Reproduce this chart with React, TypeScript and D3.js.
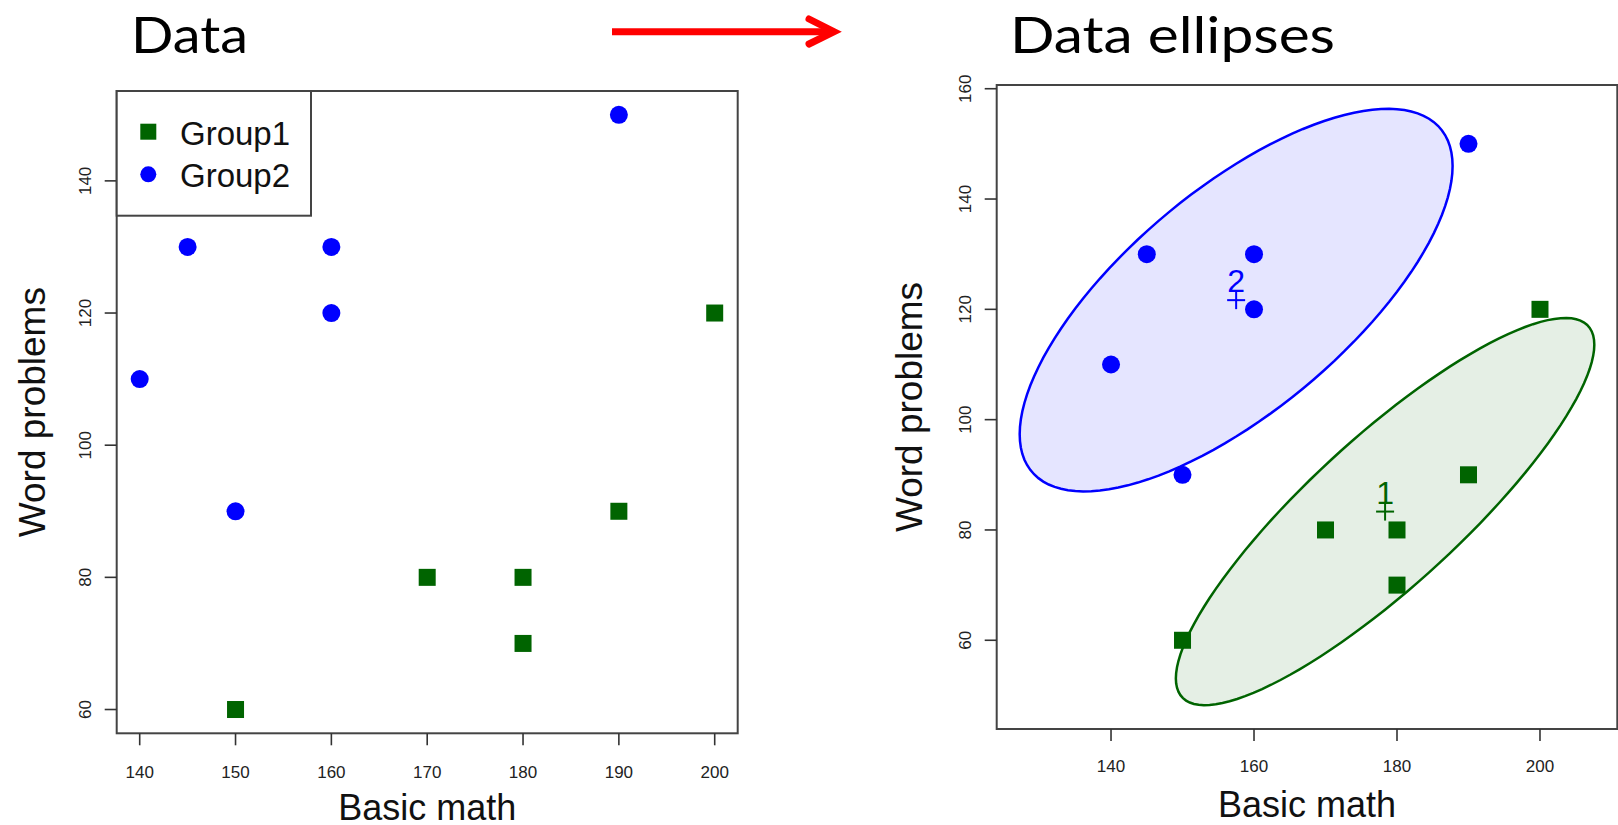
import React from "react";
import * as d3 from "d3";

// ---- Data ----
const group1X = [150, 170, 180, 180, 190, 200];
const group1Y = [60, 80, 80, 70, 90, 120];
const group2X = [140, 145, 150, 160, 160, 190];
const group2Y = [110, 130, 90, 130, 120, 150];
const groupNames = ["Group1", "Group2"];
const groupLabels = ["1", "2"];
const leftXTicks = [140, 150, 160, 170, 180, 190, 200];
const leftYTicks = [60, 80, 100, 120, 140];
const rightXTicks = [140, 160, 180, 200];
const rightYTicks = [60, 80, 100, 120, 140, 160];
const ellipseLevel = 0.68;

const GREEN = "#006400";
const BLUE = "#0000ff";
const AXIS = "#333333";
const FONT = "'Liberation Sans', Arial, sans-serif";
const TITLE_FONT = "Lato, 'Open Sans', sans-serif";

function stats(xs: number[], ys: number[]) {
  const n = xs.length;
  const mx = d3.mean(xs)!;
  const my = d3.mean(ys)!;
  let sxx = 0, syy = 0, sxy = 0;
  for (let i = 0; i < n; i++) {
    sxx += (xs[i] - mx) ** 2;
    syy += (ys[i] - my) ** 2;
    sxy += (xs[i] - mx) * (ys[i] - my);
  }
  sxx /= n - 1; syy /= n - 1; sxy /= n - 1;
  // radius sqrt(2 * qf(level, 2, n-1)), closed form for df1 = 2
  const d = n - 1;
  const q = (d / 2) * (Math.pow(1 - ellipseLevel, -2 / d) - 1);
  const c = Math.sqrt(2 * q);
  const l11 = Math.sqrt(sxx);
  const l21 = sxy / l11;
  const l22 = Math.sqrt(syy - l21 * l21);
  const pts: [number, number][] = [];
  const N = 120;
  for (let k = 0; k < N; k++) {
    const t = (2 * Math.PI * k) / N;
    pts.push([mx + c * l11 * Math.cos(t), my + c * (l21 * Math.cos(t) + l22 * Math.sin(t))]);
  }
  return { mx, my, pts, xr: [mx - c * l11, mx + c * l11], yr: [my - c * Math.sqrt(syy), my + c * Math.sqrt(syy)] };
}

function padDomain(lo: number, hi: number): [number, number] {
  const p = (hi - lo) * 0.04;
  return [lo - p, hi + p];
}

const g1 = stats(group1X, group1Y);
const g2 = stats(group2X, group2Y);

const allX = [...group1X, ...group2X];
const allY = [...group1Y, ...group2Y];

// Left panel scales
const L = { left: 116.7, right: 737.7, top: 91, bottom: 733.3 };
const lx = d3.scaleLinear().domain(padDomain(d3.min(allX)!, d3.max(allX)!)).range([L.left, L.right]);
const ly = d3.scaleLinear().domain(padDomain(d3.min(allY)!, d3.max(allY)!)).range([L.bottom, L.top]);

// Right panel scales
const R = { left: 996.7, right: 1617.3, top: 85, bottom: 729 };
const rxLo = Math.min(d3.min(allX)!, g1.xr[0], g2.xr[0]);
const rxHi = Math.max(d3.max(allX)!, g1.xr[1], g2.xr[1]);
const ryLo = Math.min(d3.min(allY)!, g1.yr[0], g2.yr[0]);
const ryHi = Math.max(d3.max(allY)!, g1.yr[1], g2.yr[1]);
const rx = d3.scaleLinear().domain(padDomain(rxLo, rxHi)).range([R.left, R.right]);
const ry = d3.scaleLinear().domain(padDomain(ryLo, ryHi)).range([R.bottom, R.top]);

function Square({ cx, cy, s, fill }: { cx: number; cy: number; s: number; fill: string }) {
  return <rect x={cx - s / 2} y={cy - s / 2} width={s} height={s} fill={fill} />;
}

function Points({ sx, sy }: { sx: any; sy: any }) {
  return (
    <g>
      {group1X.map((x, i) => (
        <Square key={"g1" + i} cx={sx(x)} cy={sy(group1Y[i])} s={17} fill={GREEN} />
      ))}
      {group2X.map((x, i) => (
        <circle key={"g2" + i} cx={sx(x)} cy={sy(group2Y[i])} r={9} fill={BLUE} />
      ))}
    </g>
  );
}

function Axes({ box, sx, sy, xt, yt, xLabBase, yLabBase, xTitleBase, yTitleBase }: any) {
  return (
    <g>
      <rect x={box.left} y={box.top} width={box.right - box.left} height={box.bottom - box.top} fill="none" stroke="#444" strokeWidth={2} />
      {xt.map((t: number) => (
        <g key={"x" + t}>
          <line x1={sx(t)} x2={sx(t)} y1={box.bottom} y2={box.bottom + 12} stroke={AXIS} strokeWidth={1.6} />
          <text x={sx(t)} y={xLabBase} textAnchor="middle" fontFamily={FONT} fontSize={17} fill="#222">{t}</text>
        </g>
      ))}
      {yt.map((t: number) => (
        <g key={"y" + t}>
          <line x1={box.left - 12} x2={box.left} y1={sy(t)} y2={sy(t)} stroke={AXIS} strokeWidth={1.6} />
          <text transform={`translate(${yLabBase},${sy(t)}) rotate(-90)`} textAnchor="middle" fontFamily={FONT} fontSize={17} fill="#222">{t}</text>
        </g>
      ))}
      <text x={(box.left + box.right) / 2} y={xTitleBase} textAnchor="middle" fontFamily={FONT} fontSize={36} fill="#111">Basic math</text>
      <text transform={`translate(${yTitleBase},${(box.top + box.bottom) / 2}) rotate(-90)`} textAnchor="middle" fontFamily={FONT} fontSize={37} fill="#111">Word problems</text>
    </g>
  );
}

export default function App() {
  const line = d3.line<[number, number]>().x((d) => rx(d[0])).y((d) => ry(d[1])).curve(d3.curveLinearClosed);
  const ells = [
    { g: g1, stroke: GREEN, fill: "rgba(0,100,0,0.1)", lab: groupLabels[0] },
    { g: g2, stroke: BLUE, fill: "rgba(0,0,255,0.1)", lab: groupLabels[1] },
  ];
  return (
    <svg width={1618} height={825} style={{ position: "absolute", left: 0, top: 0, background: "#fff" }}>
      {/* Titles */}
      <text x={131} y={53} fontFamily={TITLE_FONT} fontSize={50} fill="#000" textLength={117} lengthAdjust="spacingAndGlyphs">Data</text>
      <text x={1010} y={53} fontFamily={TITLE_FONT} fontSize={50} fill="#000" textLength={325} lengthAdjust="spacingAndGlyphs">Data ellipses</text>
      {/* Arrow */}
      <line x1={612} y1={31.7} x2={832} y2={31.7} stroke="#ff0000" strokeWidth={7} />
      <polyline points="809,19 834,31.7 809,44" fill="none" stroke="#ff0000" strokeWidth={7} strokeLinecap="round" strokeLinejoin="miter" />

      {/* Left panel */}
      <Axes box={L} sx={lx} sy={ly} xt={leftXTicks} yt={leftYTicks} xLabBase={778} yLabBase={91} xTitleBase={820} yTitleBase={45} />
      <Points sx={lx} sy={ly} />
      {/* Legend */}
      <rect x={L.left} y={L.top} width={311 - L.left} height={215.7 - L.top} fill="#fff" stroke="#444" strokeWidth={2} />
      <Square cx={148.3} cy={131.7} s={16} fill={GREEN} />
      <circle cx={148.3} cy={174.3} r={8} fill={BLUE} />
      <text x={180} y={145} fontFamily={FONT} fontSize={33} fill="#111">{groupNames[0]}</text>
      <text x={180} y={187.3} fontFamily={FONT} fontSize={33} fill="#111">{groupNames[1]}</text>

      {/* Right panel */}
      <g>
        {ells.map((e, i) => (
          <path key={"e" + i} d={line(e.g.pts) || ""} fill={e.fill} stroke={e.stroke} strokeWidth={2.5} />
        ))}
      </g>
      <Axes box={R} sx={rx} sy={ry} xt={rightXTicks} yt={rightYTicks} xLabBase={772} yLabBase={970.5} xTitleBase={817} yTitleBase={922} />
      <Points sx={rx} sy={ry} />
      {ells.map((e, i) => {
        const cx = rx(e.g.mx);
        const cy = ry(e.g.my);
        return (
          <g key={"c" + i}>
            <line x1={cx - 9} x2={cx + 9} y1={cy} y2={cy} stroke={e.stroke} strokeWidth={2} />
            <line x1={cx} x2={cx} y1={cy - 9} y2={cy + 9} stroke={e.stroke} strokeWidth={2} />
            <text x={cx} y={cy - 8} textAnchor="middle" fontFamily={FONT} fontSize={32} fill={e.stroke}>{e.lab}</text>
          </g>
        );
      })}
    </svg>
  );
}
